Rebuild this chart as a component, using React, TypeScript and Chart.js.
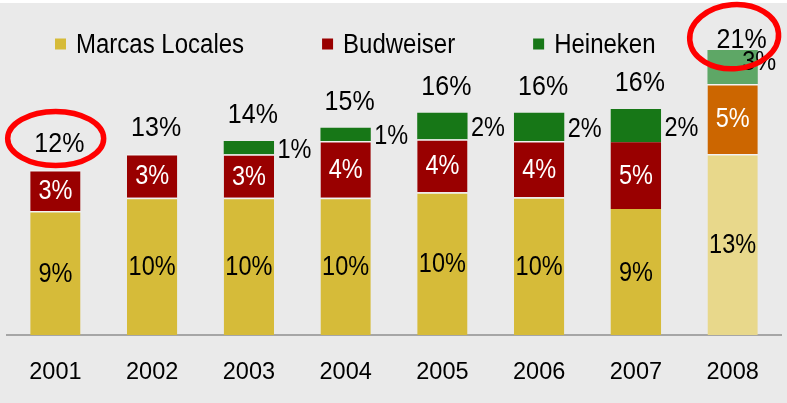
import React, { useEffect, useRef } from "react";
import { Chart, registerables } from "chart.js";

Chart.register(...registerables);

// ---- data ----
const years = ["2001", "2002", "2003", "2004", "2005", "2006", "2007", "2008"];
const seriesNames = ["Marcas Locales", "Budweiser", "Heineken"];
const localValues = [8.99, 9.95, 9.95, 9.95, 10.34, 9.98, 9.13, 13.12];
const budweiserValues = [2.97, 3.17, 3.14, 4.11, 3.84, 4.08, 4.83, 5.07];
const heinekenValues = [null, null, 0.96, 0.96, 1.93, 2.05, 2.41, 2.46];
const localLabels = ["9%", "10%", "10%", "10%", "10%", "10%", "9%", "13%"];
const budweiserLabels = ["3%", "3%", "3%", "4%", "4%", "4%", "5%", "5%"];
const heinekenLabels = ["", "", "1%", "1%", "2%", "2%", "2%", "3%"];
const totalLabels = ["12%", "13%", "14%", "15%", "16%", "16%", "16%", "21%"];
const highlightedYears = ["2001", "2008"];
const projectedYear = "2008";

// ---- style ----
const FONT = "Arial, 'Liberation Sans', sans-serif";
const BG = "#EAEAEA";
const COLORS = {
  local: "#D6BB39",
  localProj: "#E8D88B",
  bud: "#990000",
  budProj: "#CC6600",
  hein: "#177717",
  heinProj: "#5EA766",
  sep: "#F2F2F2",
  ring: "#FF0000",
};
const STRETCH = 1.14;

function drawText(
  ctx: CanvasRenderingContext2D,
  text: string,
  x: number,
  y: number,
  size: number,
  color: string,
  align: CanvasTextAlign = "center",
  sy: number = STRETCH
) {
  ctx.save();
  ctx.translate(x, y);
  ctx.scale(1, sy);
  ctx.font = `${size}px ${FONT}`;
  ctx.fillStyle = color;
  ctx.textAlign = align;
  ctx.textBaseline = "middle";
  ctx.fillText(text, 0, 1);
  ctx.restore();
}

const isProj = (i: number) => years[i] === projectedYear;

const bgPlugin = {
  id: "bgFill",
  beforeDraw(chart: any) {
    const { ctx, width, height } = chart;
    ctx.save();
    ctx.fillStyle = "#FFFFFF";
    ctx.fillRect(0, 0, width, height);
    ctx.fillStyle = BG;
    ctx.fillRect(0, 3, width, height - 3);
    ctx.restore();
  },
};

function totalPos(chart: any, i: number) {
  const yScale = chart.scales.y;
  const total =
    (localValues[i] || 0) + (budweiserValues[i] || 0) + (heinekenValues[i] || 0);
  const top = yScale.getPixelForValue(total);
  const x = chart.getDatasetMeta(0).data[i].x;
  if (isProj(i)) return { x: x + 9, y: top - 11 };
  return { x: x + 4, y: top - 27 };
}

const labelPlugin = {
  id: "segLabels",
  afterDatasetsDraw(chart: any) {
    const ctx = chart.ctx;
    const labelSets = [localLabels, budweiserLabels, heinekenLabels];
    for (let d = 0; d < 3; d++) {
      const meta = chart.getDatasetMeta(d);
      meta.data.forEach((bar: any, i: number) => {
        const txt = labelSets[d][i];
        if (!txt) return;
        const cy = (bar.y + bar.base) / 2;
        if (d === 0) drawText(ctx, txt, bar.x, cy, 23.5, "#000");
        else if (d === 1) drawText(ctx, txt, bar.x, cy, 23.5, "#FFF");
        else if (isProj(i)) drawText(ctx, txt, bar.x + 9.5, cy - 6, 23.5, "#000", "left");
        else drawText(ctx, txt, bar.x + bar.width / 2 + 3.5, cy + 1.5, 23.5, "#000", "left");
      });
    }
    years.forEach((_, i) => {
      const p = totalPos(chart, i);
      drawText(ctx, totalLabels[i], p.x, p.y, 25, "#000");
    });

    // legend
    let x = 55;
    const ly = 44;
    const colors = [COLORS.local, COLORS.bud, COLORS.hein];
    ctx.save();
    ctx.font = `24px ${FONT}`;
    seriesNames.forEach((name, k) => {
      ctx.fillStyle = colors[k];
      ctx.fillRect(x, ly - 5.5, 11, 11);
      drawText(ctx, name, x + 21, ly, 24, "#000", "left");
      ctx.font = `24px ${FONT}`;
      const w = ctx.measureText(name).width;
      x += 21 + w + 78;
    });
    ctx.restore();
  },
  afterDraw(chart: any) {
    const ctx = chart.ctx;
    highlightedYears.forEach((yr) => {
      const i = years.indexOf(yr);
      const p = totalPos(chart, i);
      ctx.save();
      ctx.strokeStyle = COLORS.ring;
      ctx.lineWidth = 5.5;
      ctx.beginPath();
      if (isProj(i)) ctx.ellipse(p.x - 7.5, p.y - 2.3, 44.5, 32, -0.08, 0, Math.PI * 2);
      else ctx.ellipse(p.x - 3.7, p.y - 4.5, 48, 27, 0, 0, Math.PI * 2);
      ctx.stroke();
      ctx.restore();
    });
  },
};

const sepWidth = (c: any) =>
  years[c.dataIndex] === "2007" ? 0 : { top: 1.5, bottom: 0, left: 0, right: 0 };

export default function App() {
  const ref = useRef<HTMLCanvasElement>(null);
  useEffect(() => {
    const canvas = ref.current;
    if (!canvas) return;
    const chart = new Chart(canvas, {
      type: "bar",
      data: {
        labels: years,
        datasets: [
          {
            label: seriesNames[0],
            data: localValues,
            backgroundColor: (c: any) => (isProj(c.dataIndex) ? COLORS.localProj : COLORS.local),
            borderColor: COLORS.sep,
            borderWidth: sepWidth,
            borderSkipped: false,
          },
          {
            label: seriesNames[1],
            data: budweiserValues,
            backgroundColor: (c: any) => (isProj(c.dataIndex) ? COLORS.budProj : COLORS.bud),
            borderColor: COLORS.sep,
            borderWidth: sepWidth,
            borderSkipped: false,
          },
          {
            label: seriesNames[2],
            data: heinekenValues as any,
            backgroundColor: (c: any) => (isProj(c.dataIndex) ? COLORS.heinProj : COLORS.hein),
            borderColor: COLORS.sep,
            borderWidth: 0,
            borderSkipped: false,
          },
        ],
      } as any,
      options: {
        responsive: false,
        animation: false,
        devicePixelRatio: 1,
        layout: { padding: { top: 31.4, left: 7, right: 6, bottom: 0 } },
        datasets: { bar: { categoryPercentage: 0.52, barPercentage: 1 } },
        plugins: { legend: { display: false }, tooltip: { enabled: false } },
        scales: {
          x: {
            stacked: true,
            grid: { display: false, drawTicks: false },
            border: { display: true, color: "#A6A6A6", width: 2 },
            ticks: { color: "#000", font: { family: FONT, size: 23.5 }, padding: 23 },
            afterFit: (scale: any) => {
              scale.height = 68;
            },
          },
          y: { stacked: true, display: false, min: 0, max: 22 },
        },
      } as any,
      plugins: [bgPlugin, labelPlugin],
    });
    return () => chart.destroy();
  }, []);
  return (
    <div style={{ position: "fixed", left: 0, top: 0, width: 787, height: 403, background: "#fff" }}>
      <canvas ref={ref} width={787} height={403} style={{ display: "block" }} />
    </div>
  );
}
